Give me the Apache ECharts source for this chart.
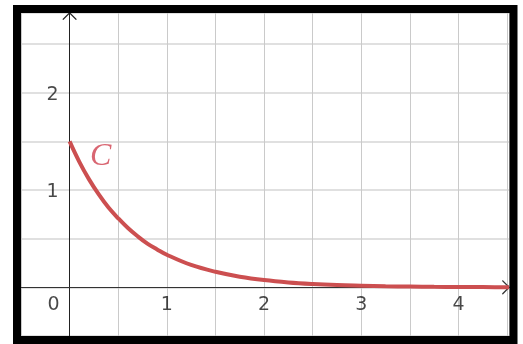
<!DOCTYPE html>
<html>
<head>
<meta charset="utf-8">
<script src="https://cdn.jsdelivr.net/npm/echarts@6/dist/echarts.min.js"></script>
<style>
  html, body { margin: 0; padding: 0; background: #fff; }
  #root { width: 523px; height: 344px; }
</style>
</head>
<body>
<div id="root"></div>
<script>
// curve C
var curveX = [0, 0.1, 0.2, 0.3, 0.4, 0.5, 0.6, 0.7, 0.8, 0.9, 1, 1.25, 1.5, 1.75, 2, 2.25, 2.5, 2.75, 3, 3.25, 3.5, 3.75, 4, 4.25, 4.5, 4.52]
var curveY = [1.5, 1.29, 1.11, 0.955, 0.82, 0.71, 0.61, 0.525, 0.45, 0.39, 0.335, 0.23, 0.16, 0.11, 0.075, 0.051, 0.035, 0.024, 0.017, 0.011, 0.008, 0.005, 0.004, 0.003, 0.002, 0.002]
var xTickLabels = [1, 2, 3, 4]
var yTickLabels = [1, 2]
var originLabel = '0'
var curveName = 'C'
var curveLabelAt = [0.32, 1.34]

var arrow = 'path://M0,10 L10,0 L20,10 L18.6,11 L10,2.4 L1.4,11 Z'
var labelFont = { fontFamily: 'DejaVu Sans', fontSize: 19, color: '#1a1a1a' }

var chart = echarts.init(document.getElementById('root'), null, { renderer: 'canvas' })

// tick labels are hung on invisible points so they sit on the zero lines
var labelSeries = function (data, label) {
  return {
    type: 'scatter', data: data, symbolSize: 0, silent: true, z: 4,
    label: Object.assign({ show: true }, labelFont, label)
  }
}

var option = {
  animation: false,
  grid: { left: 21, top: 13, right: 14, bottom: 8, containLabel: false, outerBoundsMode: 'none' },
  xAxis: {
    type: 'value', min: -0.5, max: 4.52, interval: 0.5,
    axisLine: {
      onZero: true,
      lineStyle: { color: '#333', width: 1 },
      symbol: ['none', arrow], symbolSize: [15, 8], symbolOffset: [0, -3]
    },
    axisTick: { show: false },
    axisLabel: { show: false },
    splitLine: { show: true, lineStyle: { color: '#cacaca', width: 1 } }
  },
  yAxis: {
    type: 'value', min: -0.5, max: 2.82, interval: 0.5,
    axisLine: {
      onZero: true,
      lineStyle: { color: '#222', width: 1 },
      symbol: ['none', arrow], symbolSize: [15, 8], symbolOffset: [0, -3]
    },
    axisTick: { show: false },
    axisLabel: { show: false },
    splitLine: { show: true, lineStyle: { color: '#d6d6d6', width: 1.5 } }
  },
  graphic: [{
    type: 'rect', z: 100, silent: true,
    shape: { x: 17, y: 9, width: 496.5, height: 331 },
    style: { fill: 'none', stroke: '#000', lineWidth: 8 }
  }],
  series: [
    {
      type: 'line', name: curveName,
      data: curveX.map(function (x, i) { return [x, curveY[i]] }),
      smooth: 0.4, showSymbol: false,
      lineStyle: { color: '#cc4f50', width: 4 },
      z: 5
    },
    labelSeries(xTickLabels.map(function (v) { return [v, 0] }), {
      position: 'bottom', distance: 8, formatter: function (p) { return String(p.value[0]) }
    }),
    labelSeries(yTickLabels.map(function (v) { return [0, v] }), {
      position: 'left', distance: 11, offset: [0, 2], formatter: function (p) { return String(p.value[1]) }
    }),
    labelSeries([[0, 0]], {
      position: 'bottom', distance: 8, offset: [-16, 0], formatter: originLabel
    }),
    {
      type: 'scatter',
      data: [curveLabelAt],
      symbolSize: 0, silent: true,
      label: {
        show: true, position: 'inside', formatter: curveName,
        fontFamily: 'Liberation Serif', fontStyle: 'italic', fontSize: 32, color: '#d0404f'
      },
      z: 6
    }
  ]
}

chart.setOption(option)
</script>
</body>
</html>
